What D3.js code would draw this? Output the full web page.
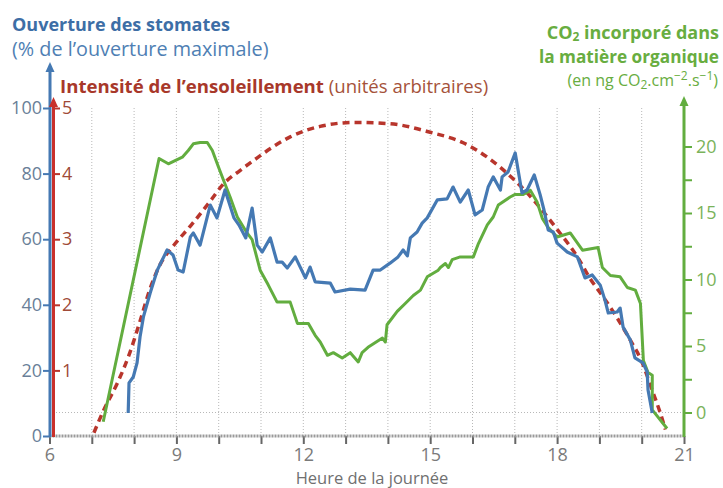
<!DOCTYPE html>
<html>
<head>
<meta charset="utf-8">
<script src="https://cdn.jsdelivr.net/npm/d3@7"></script>
<style>
  body { margin: 0; background: #fff; }
  svg { display: block; }
  text { font-family: "Open Sans", sans-serif; }
</style>
</head>
<body>
<svg id="chart" width="723" height="488"></svg>
<script>
// hours of the day, axis ticks
const hourTicks = d3.range(6, 22);
const hourLabels = [6, 9, 12, 15, 18, 21];
const stomataTicks = [0, 20, 40, 60, 80, 100];
const sunTicks = [1, 2, 3, 4, 5];
const co2Labels = [0, 5, 10, 15, 20];
const co2MinorTicks = [2.5, 7.5, 12.5, 17.5];

// sunshine intensity (arbitrary units)
const sunHours = [7.05, 7.3, 7.6, 7.9, 8.14, 8.38, 8.62, 8.93, 9.33, 9.8, 10.11, 10.51, 10.91, 11.29, 11.69, 12.4, 13.2, 14.05, 15.0, 15.78, 16.35, 16.96, 17.44, 18.0, 18.48, 18.78, 19.09, 19.42, 19.73, 19.97, 20.27, 20.44, 20.56];
const sunValues = [0.05, 0.42, 0.8, 1.27, 1.75, 2.25, 2.62, 2.9, 3.2, 3.58, 3.84, 4.05, 4.24, 4.41, 4.56, 4.72, 4.78, 4.76, 4.63, 4.47, 4.25, 3.92, 3.6, 3.15, 2.73, 2.4, 2.12, 1.8, 1.46, 1.18, 0.66, 0.35, 0.1];

// stomata opening (% of max)
const stomataHours = [7.86, 7.88, 7.98, 8.07, 8.14, 8.22, 8.38, 8.55, 8.78, 8.92, 9.04, 9.16, 9.33, 9.40, 9.56, 9.80, 9.96, 10.15, 10.36, 10.48, 10.64, 10.79, 10.91, 11.03, 11.22, 11.38, 11.50, 11.62, 11.81, 12.05, 12.16, 12.28, 12.64, 12.75, 13.11, 13.46, 13.65, 13.82, 14.05, 14.24, 14.36, 14.46, 14.53, 14.69, 14.81, 14.93, 15.17, 15.40, 15.54, 15.71, 15.90, 16.06, 16.23, 16.37, 16.49, 16.66, 16.70, 16.84, 17.01, 17.17, 17.29, 17.46, 17.60, 17.69, 17.79, 17.91, 18.00, 18.24, 18.48, 18.66, 18.83, 19.02, 19.13, 19.21, 19.42, 19.49, 19.56, 19.73, 19.84, 20.03, 20.13, 20.15, 20.25];
const stomataValues = [7.0, 16.2, 18.0, 22.3, 30.2, 36.3, 43.6, 50.6, 56.7, 55.2, 50.6, 50.0, 60.7, 61.9, 58.2, 70.4, 66.5, 75.0, 66.5, 64.3, 60.4, 69.5, 58.2, 56.1, 60.4, 53.0, 53.0, 51.2, 54.6, 48.2, 51.5, 47.0, 46.6, 43.9, 44.8, 44.5, 50.6, 50.6, 52.7, 54.6, 56.7, 54.9, 60.4, 62.2, 64.9, 66.5, 72.0, 72.3, 75.9, 71.3, 75.0, 67.4, 68.9, 75.9, 79.0, 75.0, 79.0, 80.5, 86.3, 74.1, 75.0, 79.6, 73.5, 68.9, 62.8, 62.2, 58.8, 56.1, 54.6, 48.2, 49.1, 46.0, 41.5, 37.5, 37.8, 39.0, 33.2, 29.3, 23.8, 22.3, 19.5, 14.0, 7.0];

// CO2 incorporated (ng CO2.cm-2.s-1)
const co2Hours = [7.27, 8.59, 8.81, 9.14, 9.28, 9.40, 9.56, 9.73, 9.85, 9.99, 10.11, 10.27, 10.44, 10.67, 10.79, 10.98, 11.17, 11.38, 11.69, 11.86, 12.12, 12.28, 12.40, 12.57, 12.71, 12.92, 13.11, 13.30, 13.39, 13.53, 13.87, 13.94, 13.98, 14.22, 14.41, 14.60, 14.77, 14.93, 15.19, 15.24, 15.36, 15.43, 15.52, 15.71, 16.02, 16.14, 16.35, 16.49, 16.61, 16.89, 17.01, 17.20, 17.37, 17.53, 17.65, 17.79, 18.00, 18.31, 18.60, 18.97, 19.07, 19.26, 19.49, 19.66, 19.85, 19.97, 20.04, 20.15, 20.25, 20.25, 20.60];
const co2Values = [-0.7, 19.1, 18.7, 19.2, 19.7, 20.2, 20.3, 20.3, 19.7, 18.5, 17.5, 16.2, 14.7, 13.5, 13.0, 10.7, 9.6, 8.3, 8.3, 6.7, 6.7, 5.8, 5.3, 4.3, 4.5, 4.1, 4.5, 3.8, 4.5, 4.9, 5.6, 5.3, 6.6, 7.6, 8.2, 8.8, 9.2, 10.2, 10.7, 10.9, 11.2, 10.9, 11.5, 11.7, 11.7, 12.7, 14.1, 14.7, 15.6, 16.2, 16.4, 16.4, 16.7, 15.8, 14.6, 13.9, 13.2, 13.5, 12.2, 12.4, 10.9, 10.3, 10.2, 9.4, 9.2, 8.2, 3.9, 3.0, 2.8, 0.2, -1.2];

const blue = "#4579b3", red = "#b8352c", green = "#62ad3f";
const svg = d3.select("#chart");

const x = d3.scaleLinear().domain([6, 21]).range([49.5, 684]);
const yStom = d3.scaleLinear().domain([0, 100]).range([436, 108]);
const ySun = d3.scaleLinear().domain([0, 5]).range([436, 108]);
const yCo2 = d3.scaleLinear().domain([0, 20]).range([412.5, 146.5]);

// grid
svg.append("g")
    .selectAll("line")
    .data(hourTicks.filter(h => h > 6 && h < 21))
    .join("line")
    .attr("x1", d => x(d)).attr("x2", d => x(d))
    .attr("y1", 108).attr("y2", 436)
    .attr("stroke", "#b8b8b8")
    .attr("stroke-dasharray", "1,2");

svg.append("line")
    .attr("x1", 56).attr("x2", x(21))
    .attr("y1", yCo2(0)).attr("y2", yCo2(0))
    .attr("stroke", "#b8b8b8")
    .attr("stroke-dasharray", "1,2");

// x axis
const xAxis = svg.append("g")
    .attr("transform", "translate(0,436)")
    .call(d3.axisBottom(x).tickValues(hourTicks).tickSize(8)
        .tickFormat(d => hourLabels.includes(d) ? d : ""));
xAxis.select(".domain").remove();
xAxis.selectAll(".tick line").attr("stroke", "#666").attr("stroke-width", 2);
xAxis.selectAll(".tick text")
    .attr("y", 12).attr("dy", "0.71em")
    .attr("fill", "#7a7a7a").style("font-size", "18px");
svg.append("line")
    .attr("x1", x(6)).attr("x2", x(21))
    .attr("y1", 436).attr("y2", 436)
    .attr("stroke", "#9a9a9a").attr("stroke-width", 3)
    .attr("stroke-dasharray", "2,1");

svg.append("text")
    .attr("x", 372).attr("y", 483.5)
    .attr("text-anchor", "middle")
    .attr("fill", "#707070")
    .style("font-size", "16.5px")
    .text("Heure de la journée");

// left axis (stomata)
const leftAxis = svg.append("g")
    .attr("transform", "translate(50,0)")
    .call(d3.axisLeft(yStom).tickValues(stomataTicks).tickSize(7));
leftAxis.select(".domain").remove();
leftAxis.selectAll(".tick line").attr("stroke", blue).attr("stroke-width", 2);
leftAxis.selectAll(".tick text").attr("fill", "#6a7f98").style("font-size", "18px").attr("x", -8);

// red axis (sunshine)
const sunAxis = svg.append("g")
    .attr("transform", "translate(53,0)")
    .call(d3.axisRight(ySun).tickValues(sunTicks).tickSize(7).tickFormat(d3.format("d")));
sunAxis.select(".domain").remove();
sunAxis.selectAll(".tick line").attr("stroke", red).attr("stroke-width", 2);
sunAxis.selectAll(".tick text").attr("fill", "#a04a38").style("font-size", "18px").attr("x", 9);

// green axis (CO2)
const co2Axis = svg.append("g")
    .attr("transform", `translate(${x(21)},0)`)
    .call(d3.axisRight(yCo2).tickValues(co2Labels.concat(co2MinorTicks)).tickSize(8)
        .tickFormat(d => co2Labels.includes(d) ? d : ""));
co2Axis.select(".domain").remove();
co2Axis.selectAll(".tick line").attr("stroke", green).attr("stroke-width", 2);
co2Axis.selectAll(".tick text").attr("fill", "#7ab35a").style("font-size", "18px").attr("x", 12);

// axis lines with arrows
function axisArrow(xPos, yTop, color) {
    svg.append("line")
        .attr("x1", xPos).attr("x2", xPos)
        .attr("y1", 437).attr("y2", yTop + 6)
        .attr("stroke", color).attr("stroke-width", 3);
    svg.append("path")
        .attr("d", `M${xPos},${yTop} L${xPos - 4.5},${yTop + 10} L${xPos + 4.5},${yTop + 10} Z`)
        .attr("fill", color);
}
axisArrow(50, 62, blue);
axisArrow(53.5, 97, "#c8302a");
axisArrow(x(21), 96, green);

// series
svg.append("path")
    .datum(sunHours.map((h, i) => [h, sunValues[i]]))
    .attr("fill", "none")
    .attr("stroke", red)
    .attr("stroke-width", 3.5)
    .attr("stroke-dasharray", "7,5")
    .attr("d", d3.line().x(d => x(d[0])).y(d => ySun(d[1])).curve(d3.curveMonotoneX));

svg.append("path")
    .datum(co2Hours.map((h, i) => [h, co2Values[i]]))
    .attr("fill", "none")
    .attr("stroke", green)
    .attr("stroke-width", 3)
    .attr("stroke-linejoin", "round")
    .attr("d", d3.line().x(d => x(d[0])).y(d => yCo2(d[1])));

svg.append("path")
    .datum(stomataHours.map((h, i) => [h, stomataValues[i]]))
    .attr("fill", "none")
    .attr("stroke", blue)
    .attr("stroke-width", 3.2)
    .attr("stroke-linejoin", "round")
    .attr("d", d3.line().x(d => x(d[0])).y(d => yStom(d[1])));

// titles
svg.append("text")
    .attr("x", 12).attr("y", 31)
    .attr("fill", "#3d6ea6")
    .style("font-size", "18px").style("font-weight", "bold")
    .text("Ouverture des stomates");

svg.append("text")
    .attr("x", 12).attr("y", 56)
    .attr("fill", "#4f7fb4")
    .style("font-size", "19.8px")
    .text("(% de l’ouverture maximale)");

const sunTitle = svg.append("text")
    .attr("x", 60).attr("y", 93)
    .style("font-size", "18.6px");
sunTitle.append("tspan").attr("fill", "#a8382a").style("font-weight", "bold").text("Intensité de l’ensoleillement");
sunTitle.append("tspan").attr("fill", "#a5523a").text(" (unités arbitraires)");

const co2Title = svg.append("g")
    .attr("fill", "#68ad40")
    .attr("text-anchor", "end");
const line1 = co2Title.append("text").attr("x", 719).attr("y", 39)
    .style("font-size", "18px").style("font-weight", "bold");
line1.append("tspan").text("CO");
line1.append("tspan").attr("dy", 2).style("font-size", "12px").text("2");
line1.append("tspan").attr("dy", -2).text(" incorporé dans");
co2Title.append("text").attr("x", 719).attr("y", 63)
    .style("font-size", "17.2px").style("font-weight", "bold")
    .text("la matière organique");
const line3 = co2Title.append("text").attr("x", 718).attr("y", 86)
    .style("font-size", "16px");
line3.append("tspan").text("(en ng CO");
line3.append("tspan").attr("dy", 3).style("font-size", "12px").text("2");
line3.append("tspan").attr("dy", -3).text(".cm");
line3.append("tspan").attr("dy", -6).style("font-size", "12px").text("−2");
line3.append("tspan").attr("dy", 6).text(".s");
line3.append("tspan").attr("dy", -6).style("font-size", "12px").text("−1");
line3.append("tspan").attr("dy", 6).text(")");
</script>
</body>
</html>
